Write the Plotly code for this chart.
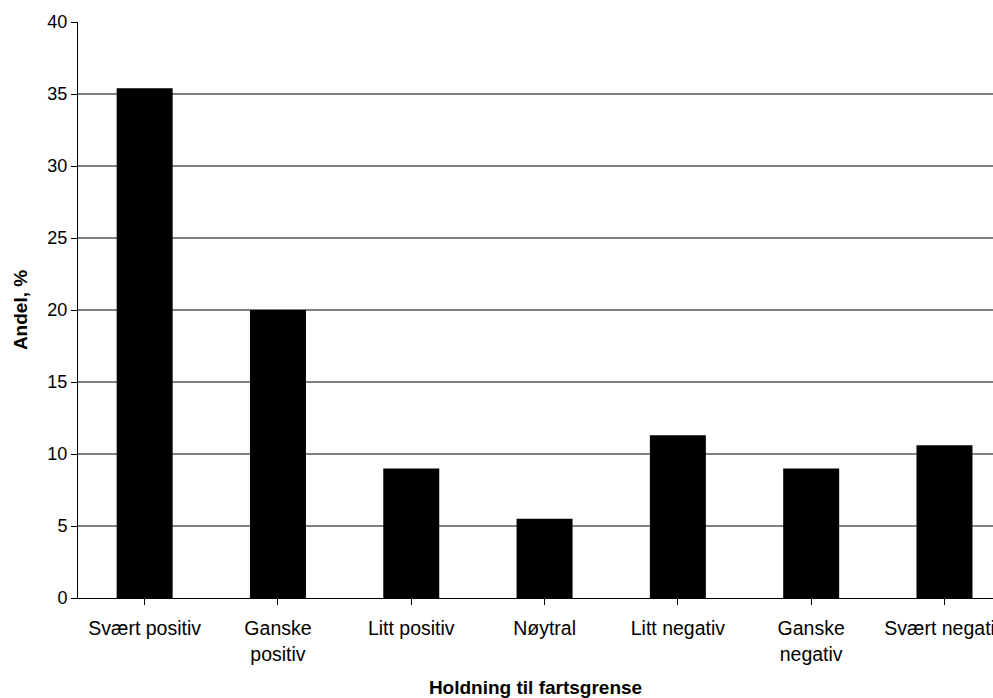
import plotly.graph_objects as go

# Holdning til fartsgrense – andel respondenter (%)
categories = [
    "Svært positiv",
    "Ganske<br>positiv",
    "Litt positiv",
    "Nøytral",
    "Litt negativ",
    "Ganske<br>negativ",
    "Svært negativ",
]
shares = [35.4, 20.0, 9.0, 5.5, 11.3, 9.0, 10.6]

y_ticks = [0, 5, 10, 15, 20, 25, 30, 35, 40]
grid_values = [5, 10, 15, 20, 25, 30, 35]

FONT = "Liberation Sans, Arial, sans-serif"

fig = go.Figure(
    go.Bar(
        x=list(range(len(categories))),
        y=shares,
        width=0.42,
        marker=dict(color="black", line=dict(width=0)),
        hoverinfo="skip",
    )
)

# horizontal grid lines (none at the top of the axis)
for g in grid_values:
    fig.add_shape(
        type="line",
        xref="paper", yref="y",
        x0=0, x1=1, y0=g, y1=g,
        line=dict(color="black", width=1),
        layer="below",
    )

fig.update_layout(
    width=993,
    height=698,
    margin=dict(l=78, r=0, t=22, b=100, autoexpand=False),
    paper_bgcolor="white",
    plot_bgcolor="white",
    showlegend=False,
    font=dict(family=FONT, color="black", size=19),
    xaxis=dict(
        tickmode="array",
        tickvals=list(range(len(categories))),
        ticktext=categories,
        tickson="boundaries",
        ticks="outside",
        ticklen=6,
        tickcolor="black",
        tickwidth=1,
        showline=True,
        linecolor="black",
        linewidth=1,
        showgrid=False,
        zeroline=False,
        automargin=False,
        range=[-0.5, 6.364],
        tickfont=dict(size=19.5),
        ticklabelstandoff=7,
        ticklabeloverflow="allow",
        title=dict(
            text="<b>Holdning til fartsgrense</b>",
            font=dict(size=19),
            standoff=18,
        ),
    ),
    yaxis=dict(
        range=[0, 40],
        tickmode="array",
        tickvals=y_ticks,
        ticktext=[str(v) for v in y_ticks],
        ticks="outside",
        ticklen=6,
        tickcolor="black",
        tickwidth=1,
        showline=True,
        linecolor="black",
        linewidth=1,
        showgrid=False,
        zeroline=False,
        automargin=False,
        tickfont=dict(size=18),
        title=dict(
            text="<b>Andel, %</b>",
            font=dict(size=19),
            standoff=14,
        ),
    ),
)

fig.write_html("out.html")
